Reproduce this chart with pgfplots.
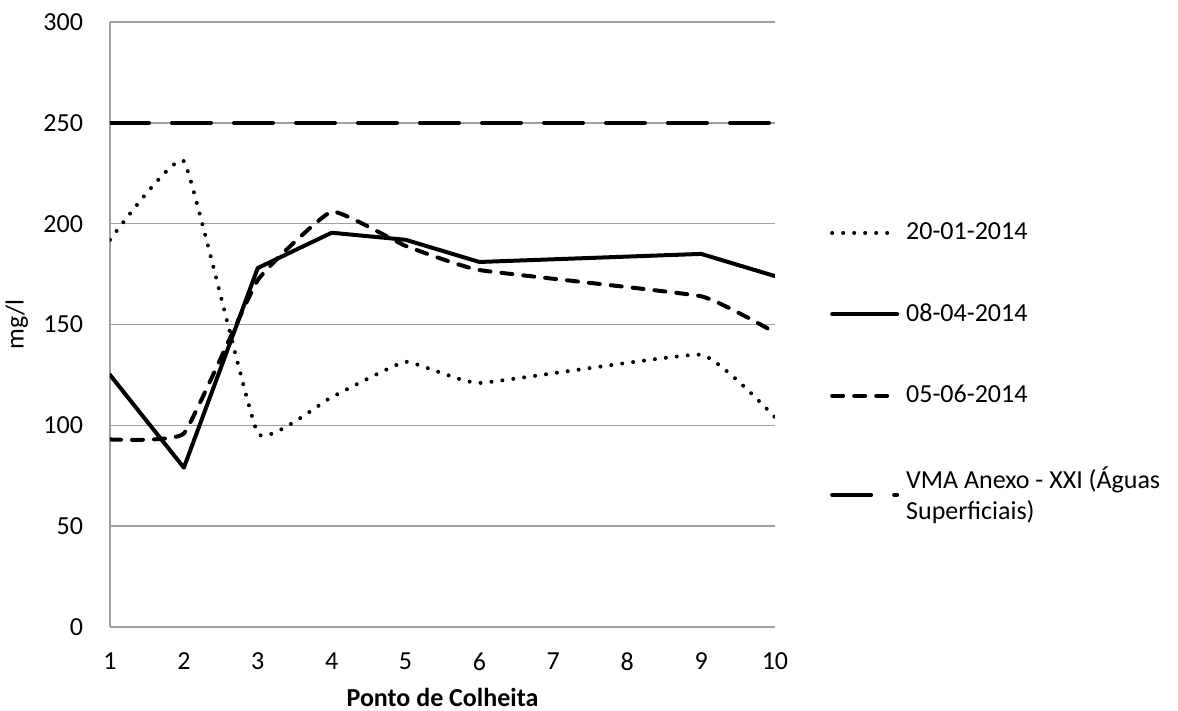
\documentclass[border=0pt]{standalone}
\usepackage{fontspec}
\setmainfont{Carlito}
\usepackage{pgfplots}
\pgfplotsset{compat=1.18}
\definecolor{gridgray}{RGB}{160,160,160}
\begin{document}
\fontsize{13pt}{15.6pt}\selectfont
\begin{tikzpicture}
\begin{axis}[
  at={(0,0)}, anchor=south west,
  scale only axis, width=332.5pt, height=302.5pt,
  xmin=1, xmax=10, ymin=0, ymax=300,
  xtick={1,...,10}, ytick={0,50,...,300},
  axis x line*=bottom, axis y line*=left,
  axis line style={gridgray, line width=0.8pt, -},
  major tick length=0pt,
  ymajorgrids, grid style={gridgray, line width=0.8pt},
  /pgf/number format/assume math mode=true,
  tick label style={font=\fontsize{13pt}{15.6pt}\selectfont},
  xticklabel style={yshift=-8.5pt},
  yticklabel style={xshift=-9pt},
  every axis y label/.style={at={(axis description cs:-0.14,0.5)}, rotate=90, anchor=center, font=\fontsize{13pt}{15.6pt}\selectfont},
  every axis x label/.style={at={(axis description cs:0.5,-0.117)}, anchor=center, font=\fontsize{13pt}{15.6pt}\selectfont},
  xlabel={\bfseries Ponto de Colheita},
  ylabel={mg/l},
  legend cell align=left,
  legend style={draw=none, fill=none, inner sep=0pt, outer sep=0pt,
    at={(1.083,0.68)}, anchor=north west, row sep=23pt,
    font=\fontsize{13pt}{15.6pt}\selectfont,
    nodes={align=left, inner sep=3.5pt}},
  legend image code/.code={\draw[#1] (0pt,0pt) -- (32.5pt,0pt);},
]
\addplot[black, line width=2pt, line cap=round, dash pattern=on 0pt off 5.5pt, smooth, tension=0.2]
  coordinates {(1,192) (2,231) (3,96) (4,114) (5,131.5) (6,121) (9,135) (10,104)};
\addlegendentry{20-01-2014}
\addplot[black, line width=2pt, line cap=round, line join=round]
  coordinates {(1,125) (2,79) (3,178) (4,195.5) (5,192) (6,181) (9,185) (10,174)};
\addlegendentry{08-04-2014}
\addplot[black, line width=2pt, line cap=round, dash pattern=on 5.5pt off 5.5pt, smooth, tension=0.2]
  coordinates {(1,93) (2,96) (3,172) (4,206) (5,189) (6,177) (9,164) (10,146)};
\addlegendentry{05-06-2014}
\addplot[black, line width=2pt, line cap=round, dash pattern=on 19.5pt off 11.5pt]
  coordinates {(1,250) (2,250) (3,250) (4,250) (5,250) (6,250) (7,250) (8,250) (9,250) (10,250)};
\addlegendentry{VMA Anexo - XXI (Águas\\Superficiais)}
\end{axis}
\pgfresetboundingbox
\path (-55pt,-42pt) rectangle (534pt,313.5pt);
\end{tikzpicture}
\end{document}
